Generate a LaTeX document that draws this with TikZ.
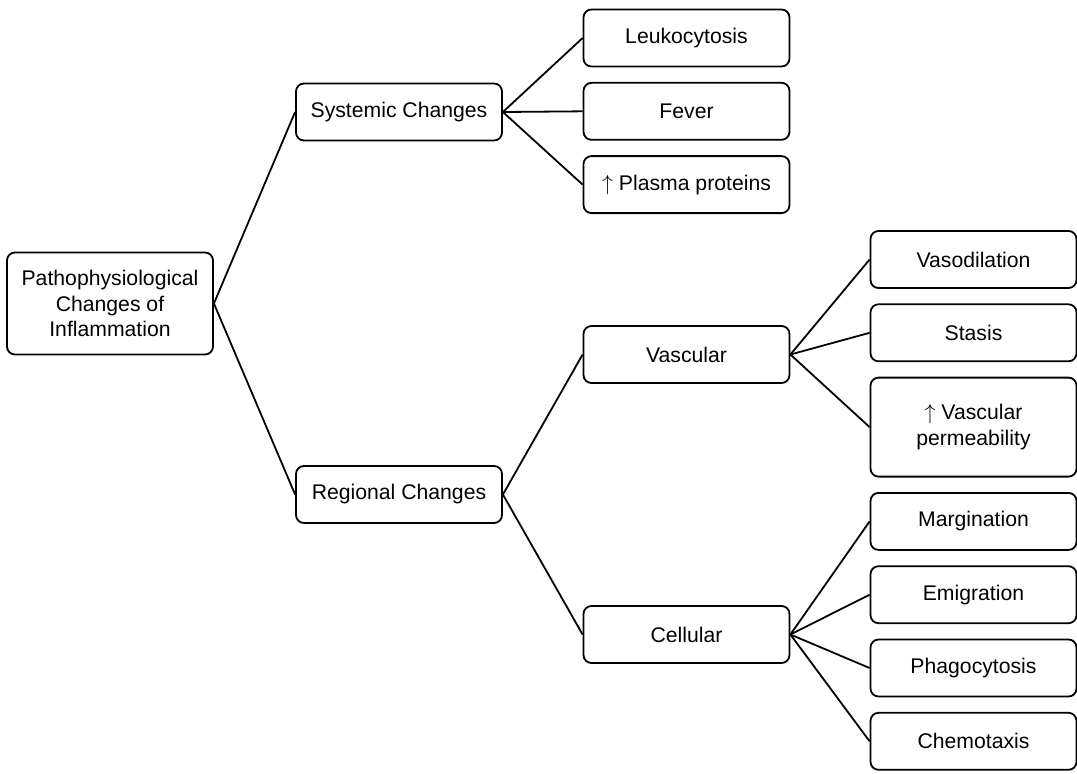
\documentclass[tikz,border=0pt]{standalone}
\usepackage{fontspec}
\setmainfont{Liberation Sans}
\usepackage{tikz}
\usetikzlibrary{positioning}
\tikzset{
  box/.style={draw, rounded corners=4pt, align=center, line width=0.9pt,
    font=\fontsize{10.6}{12.8}\selectfont, minimum width=103pt, minimum height=28.5pt, inner sep=3pt},
  link/.style={line width=0.9pt},
}

\begin{document}
\begin{tikzpicture}[x=0.5pt, y=-0.5pt, node distance=7.25pt]
  \useasboundingbox (0,0) rectangle (1077,773);
  % root and first level
  \node[box, minimum height=51pt] (root) at (110,303.5) {Pathophysiological\\Changes of\\Inflammation};
  \node[box] (sys) at (399,112) {Systemic Changes};
  \node[box] (reg) at (399,494.5) {Regional Changes};
  % systemic
  \node[box] (leuko) at (686.5,38) {Leukocytosis};
  \node[box, below=of leuko] (fever) {Fever};
  \node[box, below=of fever] (plasma) {$\uparrow$ Plasma proteins};
  % regional
  \node[box] (vasc) at (686.5,354.5) {Vascular};
  \node[box] (cell) at (686.5,634.5) {Cellular};
  \node[box] (vasod) at (973.5,259.5) {Vasodilation};
  \node[box, below=of vasod] (stasis) {Stasis};
  \node[box, below=of stasis, minimum height=49.5pt] (perm) {$\uparrow$ Vascular\\permeability};
  \node[box, below=of perm] (marg) {Margination};
  \node[box, below=of marg] (emig) {Emigration};
  \node[box, below=of emig] (phago) {Phagocytosis};
  \node[box, below=of phago] (chemo) {Chemotaxis};

  \draw[link] (root.east) -- (sys.west);
  \draw[link] (root.east) -- (reg.west);
  \draw[link] (sys.east) -- (leuko.west);
  \draw[link] (sys.east) -- (fever.west);
  \draw[link] (sys.east) -- (plasma.west);
  \draw[link] (reg.east) -- (vasc.west);
  \draw[link] (reg.east) -- (cell.west);
  \draw[link] (vasc.east) -- (vasod.west);
  \draw[link] (vasc.east) -- (stasis.west);
  \draw[link] (vasc.east) -- (perm.west);
  \draw[link] (cell.east) -- (marg.west);
  \draw[link] (cell.east) -- (emig.west);
  \draw[link] (cell.east) -- (phago.west);
  \draw[link] (cell.east) -- (chemo.west);
\end{tikzpicture}
\end{document}
